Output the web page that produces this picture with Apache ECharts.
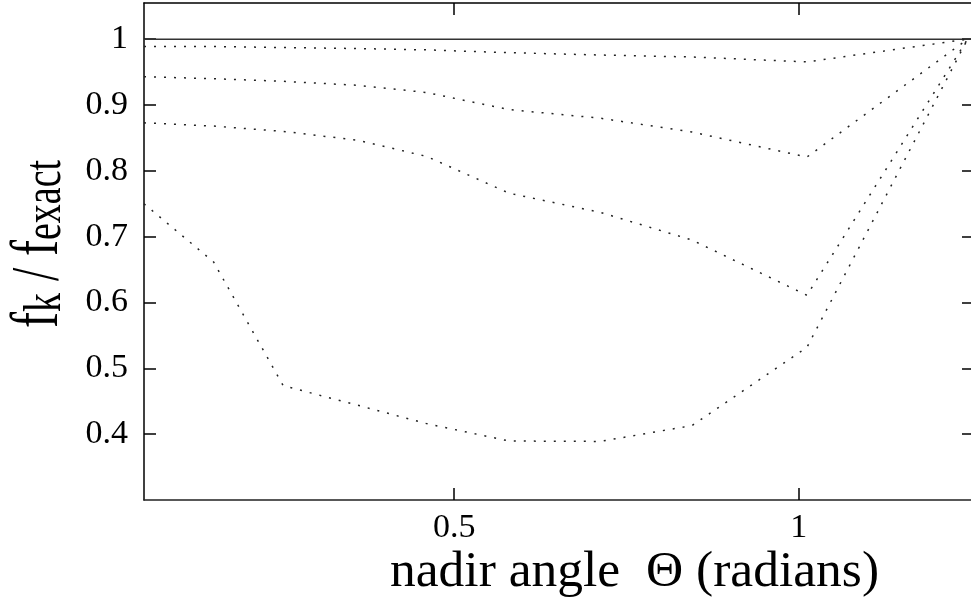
<!DOCTYPE html>
<html>
<head>
<meta charset="utf-8">
<script src="https://cdn.jsdelivr.net/npm/echarts@6/dist/echarts.min.js"></script>
<style>
  html, body { margin: 0; padding: 0; background: #fff; }
  #chart { width: 971px; height: 604px; }
</style>
</head>
<body>
<div id="chart"></div>
<script>
// nadir angle (radians) where the curves were sampled
const nadirAngle = [0.05, 0.151, 0.252, 0.36, 0.46, 0.58, 0.712, 0.845, 1.012, 1.245]
// f_k / f_exact, one array per approximation order (top to bottom)
const ratioA = [0.989, 0.9889, 0.9873, 0.9858, 0.9838, 0.9795, 0.976, 0.973, 0.9655, 1.0]
const ratioB = [0.943, 0.940, 0.936, 0.930, 0.919, 0.893, 0.880, 0.859, 0.821, 1.0]
const ratioC = [0.873, 0.868, 0.860, 0.8465, 0.822, 0.766, 0.737, 0.695, 0.611, 1.0]
const ratioD = [0.75, 0.6616, 0.4737, 0.444, 0.416, 0.3896, 0.389, 0.413, 0.532, 1.0]
// exact reference line
const exactX = [0.05, 1.25]
const exactY = [1, 1]

const xTicks = [0.5, 1]
const yTicks = [0.4, 0.5, 0.6, 0.7, 0.8, 0.9, 1]

const serif = 'Liberation Serif'

function pairs(xs, ys) {
  return xs.map((x, i) => [x, ys[i]])
}

function dotted(values) {
  return {
    type: 'line',
    symbol: 'none',
    data: pairs(nadirAngle, values),
    lineStyle: { type: [2, 8], width: 1.5, color: '#222' }
  }
}

const chart = echarts.init(document.getElementById('chart'))

const tickStyle = { color: '#000', width: 1.5 }

chart.setOption({
  backgroundColor: '#ffffff',
  animation: false,
  grid: { left: 144, right: 0, top: 3, bottom: 104 },
  xAxis: [
    {
      type: 'value',
      position: 'bottom',
      min: 0.05,
      max: 1.25,
      axisLine: { show: true, onZero: false, lineStyle: { color: '#222', width: 1.5 } },
      axisTick: { show: true, inside: true, length: 12, customValues: xTicks, lineStyle: tickStyle },
      axisLabel: { customValues: xTicks, margin: 11, fontSize: 34, fontFamily: serif, color: '#000' },
      splitLine: { show: false }
    },
    {
      type: 'value',
      position: 'top',
      min: 0.05,
      max: 1.25,
      axisLine: { show: true, onZero: false, lineStyle: { color: '#000', width: 1.5 } },
      axisTick: { show: true, inside: true, length: 12, customValues: xTicks, lineStyle: tickStyle },
      axisLabel: { show: false },
      splitLine: { show: false }
    }
  ],
  yAxis: [
    {
      type: 'value',
      position: 'left',
      min: 0.3,
      max: 1.055,
      axisLine: { show: true, onZero: false, lineStyle: { color: '#000', width: 1.5 } },
      axisTick: { show: true, inside: true, length: 12, customValues: yTicks, lineStyle: tickStyle },
      axisLabel: { customValues: yTicks, margin: 16, fontSize: 34, fontFamily: serif, color: '#000', padding: [3, 0, 0, 0] },
      splitLine: { show: false }
    },
    {
      type: 'value',
      position: 'right',
      min: 0.3,
      max: 1.055,
      axisLine: { show: false, onZero: false },
      axisTick: { show: true, inside: true, length: 9, customValues: yTicks, lineStyle: tickStyle },
      axisLabel: { show: false },
      splitLine: { show: false }
    }
  ],
  graphic: [
    {
      type: 'text',
      left: 390,
      top: 546,
      style: { text: 'nadir angle  Θ (radians)', font: '51.5px "Liberation Serif"', fill: '#000' }
    },
    {
      // y label, drawn bottom-to-top and stretched across like the original
      type: 'group',
      x: 60,
      y: 328,
      rotation: Math.PI / 2,
      scaleY: 1.4,
      children: [
        { type: 'text', x: 0, y: -15, style: { text: 'f', font: '48px "Liberation Serif"', fill: '#000', align: 'left', verticalAlign: 'middle' } },
        { type: 'text', x: 16, y: -10, style: { text: 'k', font: '38px "Liberation Serif"', fill: '#000', align: 'left', verticalAlign: 'middle' } },
        { type: 'text', x: 35, y: -15, style: { text: ' / ', font: '48px "Liberation Serif"', fill: '#000', align: 'left', verticalAlign: 'middle' } },
        { type: 'text', x: 72, y: -15, style: { text: 'f', font: '48px "Liberation Serif"', fill: '#000', align: 'left', verticalAlign: 'middle' } },
        { type: 'text', x: 88, y: -10, style: { text: 'exact', font: '38px "Liberation Serif"', fill: '#000', align: 'left', verticalAlign: 'middle' } }
      ]
    }
  ],
  series: [
    {
      type: 'line',
      symbol: 'none',
      data: pairs(exactX, exactY),
      lineStyle: { type: 'solid', width: 1.5, color: '#333' }
    },
    dotted(ratioA),
    dotted(ratioB),
    dotted(ratioC),
    dotted(ratioD)
  ]
})
</script>
</body>
</html>
